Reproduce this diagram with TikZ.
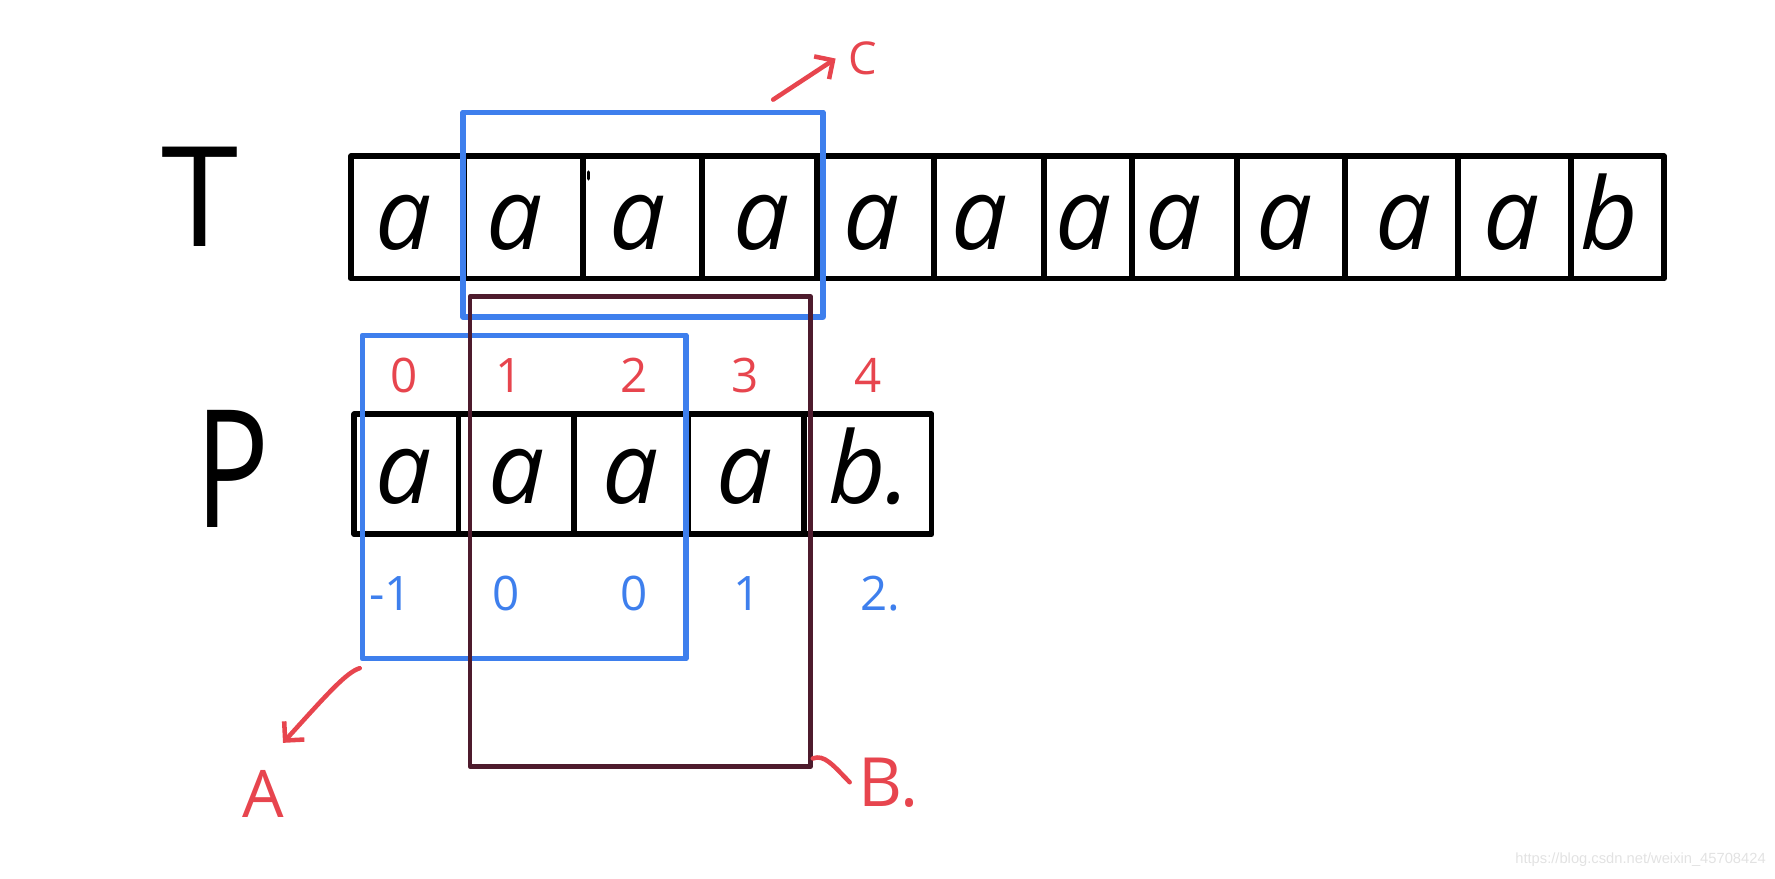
\documentclass[tikz,border=0pt]{standalone}
\usepackage{fontspec}
\setmainfont{Open Sans}
\newfontfamily\wmfont{Liberation Sans}
\usetikzlibrary{arrows.meta}
\definecolor{hblue}{RGB}{62,127,237}
\definecolor{hred}{RGB}{231,69,78}
\definecolor{hmaroon}{RGB}{78,27,45}
\definecolor{wmgray}{RGB}{226,226,226}
\begin{document}
\begin{tikzpicture}[x=1pt,y=1pt,
  cell/.style={draw=black, line width=5pt, inner sep=0pt, line join=round},
  glyph/.style={font=\fontsize{88}{88}\selectfont\itshape, inner sep=0pt, anchor=base},
  idx/.style={font=\fontsize{42}{42}\selectfont, text=hred, inner sep=0pt, anchor=base},
  val/.style={font=\fontsize{42}{42}\selectfont, text=hblue, inner sep=0pt, anchor=base},
  bluebox/.style={draw=hblue, line width=4.5pt, inner sep=0pt, line join=round},
  marbox/.style={draw=hmaroon, line width=4pt, inner sep=0pt, line join=round},
  redpen/.style={draw=hred, line width=4pt, line cap=round, line join=round},
  lbl/.style={text=hred, inner sep=0pt, anchor=base},
  barb/.style={-{Straight Barb[length=12pt,width=24pt]}}
]
\useasboundingbox (0,0) rectangle (1568,-776);

% big letters
\node[font=\fontsize{123}{123}\selectfont, inner sep=0pt, anchor=base] (Tname) at (177,-218) {T};
\node[font=\fontsize{145}{145}\selectfont, inner sep=0pt, anchor=base, xscale=0.75] (Pname) at (205,-466) {P};

% T array
\foreach \l/\r [count=\i] in {310/410,410/515,515/620,620/722,722/825,825/922,922/1000,1000/1093,1093/1188,1188/1288,1288/1388,1388/1470}{
  \node[cell, minimum width={(\r-\l)*1pt}, minimum height=108pt] (T\i) at ({(\l+\r)/2},-192) {};
}
\draw[line width=3pt, line cap=round] (520,-152) -- (520,-158);
\foreach \x/\c [count=\i] in {357/a,455/a,563/a,673/a,770/a,865/a,957/a,1037/a,1135/a,1240/a,1335/a,1422/b}{
  \node[glyph] (Tc\i) at (\x,-220) {\c};
}

% P array
\foreach \l/\r [count=\i] in {313/405,405/507,507/608,608/710,710/823}{
  \node[cell, minimum width={(\r-\l)*1pt}, minimum height=106pt] (P\i) at ({(\l+\r)/2},-419) {};
}
\foreach \x/\c [count=\i] in {357/a,456/a,557/a,658/a,768/b.}{
  \node[glyph] (Pc\i) at (\x,-445) {\c};
}

% indices
\foreach \x/\c [count=\i] in {357/0,450/1,560/2,658/3,767/4}{
  \node[idx] (I\i) at (\x,-347) {\c};
}
% next values
\foreach \x/\c [count=\i] in {345/-1,447/0,560/0,660/1,778/2.}{
  \node[val] (N\i) at (\x,-539) {\c};
}

% boxes
\node[bluebox, minimum width=318pt, minimum height=181pt] (boxC) at (568,-189.5) {};
\node[bluebox, minimum width=286pt, minimum height=286pt] (boxA) at (463,-439) {};
\node[marbox, minimum width=301pt, minimum height=415pt] (boxB) at (565.5,-469.5) {};

% labels
\node[lbl, font=\fontsize{40}{40}\selectfont] (C) at (762,-66) {C};
\node[lbl, font=\fontsize{58}{58}\selectfont] (A) at (233,-722) {A};
\node[lbl, font=\fontsize{60}{60}\selectfont] (B) at (785,-712) {B.};

% pointers
\coordinate (cfrom) at (683,-88);
\draw[redpen, barb] (cfrom) -- ([xshift=-11pt]C.west);
\draw[redpen, barb] ([yshift=-6pt]boxA.south west) .. controls (306,-594) and (290,-612) .. ([xshift=17pt,yshift=24pt]A.north);
\draw[redpen] ([yshift=9pt]boxB.south east) .. controls (728,-666) and (736,-676) .. ([xshift=-8pt]B.west);

% watermark
\node[font=\wmfont\fontsize{13}{13}\selectfont, text=wmgray, inner sep=0pt, anchor=base east] (wm) at (1560,-763) {https://blog.csdn.net/weixin\_45708424};
\end{tikzpicture}
\end{document}
